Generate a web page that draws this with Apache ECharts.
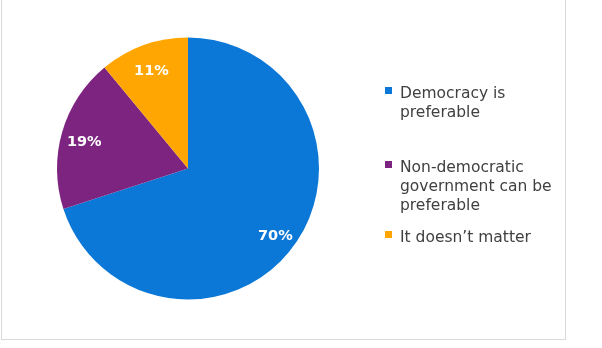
<!DOCTYPE html>
<html>
<head>
<meta charset="utf-8">
<script src="https://cdn.jsdelivr.net/npm/echarts@6/dist/echarts.min.js"></script>
<style>
  html, body { margin: 0; padding: 0; background: #ffffff; }
  #frame { position: absolute; left: 1px; top: -2px; width: 563px; height: 340px; border: 1px solid #d9d9d9; box-sizing: content-box; }
  #chart { position: absolute; left: 0; top: 0; width: 602px; height: 348px; }
</style>
</head>
<body>
<div id="frame"></div>
<div id="chart"></div>
<script>
const categories = ['Democracy is preferable', 'Non-democratic government can be preferable', 'It doesn\u2019t matter'];
const values = [70, 19, 11];
const colors = ['#0B78D7', '#7D2480', '#FFA602'];

function wrap(s, n) {
  const words = s.split(' ');
  const lines = [];
  let cur = '';
  words.forEach(w => {
    if (cur && (cur + ' ' + w).length > n) { lines.push(cur); cur = w; }
    else { cur = cur ? cur + ' ' + w : w; }
  });
  if (cur) lines.push(cur);
  return lines;
}

const legendTops = [83, 157, 227];
const rich = {
  t: { fontSize: 15.5, lineHeight: 19, color: '#404040', fontFamily: 'DejaVu Sans' },
  g: { width: 8, lineHeight: 19 },
  p: { width: 15, lineHeight: 19 }
};
colors.forEach((c, i) => {
  rich['s' + i] = {
    width: 7, height: 10, verticalAlign: 'top', lineHeight: 19,
    backgroundColor: {
      type: 'linear', x: 0, y: 0, x2: 0, y2: 1,
      colorStops: [
        { offset: 0, color: 'rgba(255,255,255,0)' },
        { offset: 0.3, color: 'rgba(255,255,255,0)' },
        { offset: 0.3, color: c },
        { offset: 1, color: c }
      ]
    }
  };
});

const legends = categories.map((name, i) => ({
  data: [name],
  left: 380,
  top: legendTops[i],
  padding: 0,
  icon: 'none',
  itemWidth: 0,
  itemHeight: 7,
  selectedMode: false,
  formatter: n => wrap(n, 18).map((l, k) => (k === 0 ? '{s' + i + '|}{g|}' : '{p|}') + '{t|' + l + '}').join('\n'),
  textStyle: { rich: rich }
}));

const pieData = categories.map((name, i) => ({ name: name, value: values[i], itemStyle: { color: colors[i] } }));

const chart = echarts.init(document.getElementById('chart'), null, { renderer: 'canvas' });
chart.setOption({
  animation: false,
  backgroundColor: 'transparent',
  legend: legends,
  series: [
    {
      type: 'pie',
      center: [188, 168.5],
      radius: 131,
      startAngle: 90,
      clockwise: true,
      silent: true,
      label: { show: false },
      labelLine: { show: false },
      itemStyle: { borderWidth: 0 },
      data: pieData
    },
    {
      type: 'pie',
      center: [188, 168.5],
      radius: [79, 131],
      startAngle: 90,
      clockwise: true,
      silent: true,
      itemStyle: { color: 'transparent', borderWidth: 0 },
      label: {
        show: true,
        position: 'inside',
        formatter: '{sp|}\n{v|{c}%}',
        rich: {
          sp: { height: 8, lineHeight: 8 },
          v: { color: '#ffffff', fontWeight: 'bold', fontSize: 14.5, fontFamily: 'DejaVu Sans', lineHeight: 18 }
        }
      },
      labelLine: { show: false },
      data: categories.map((name, i) => ({ name: name, value: values[i] }))
    }
  ]
});
</script>
</body>
</html>
